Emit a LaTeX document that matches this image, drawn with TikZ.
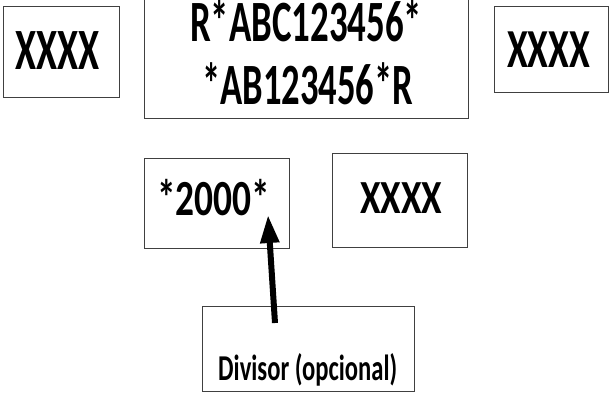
\documentclass[tikz,border=0pt]{standalone}
\usepackage{fontspec}
\usepackage{graphicx}
\setmainfont{Carlito}
\usetikzlibrary{arrows.meta}
\newcommand\sqz[3]{\setbox0\hbox{\fontsize{#2}{#2}\selectfont\bfseries #3}\pgfmathsetmacro\sqr{#1/\the\wd0}\scalebox{\sqr}[1]{\box0}}
\tikzset{
  boxx/.style={draw=black!75, line width=1.1pt, inner sep=0pt, anchor=north west},
  lbl/.style={inner sep=0pt, anchor=base west},
}
\begin{document}
\begin{tikzpicture}[x=1pt,y=-1pt]
\useasboundingbox (0,0) rectangle (611,392);
\clip (0,0) rectangle (611,392);
% boxes
\node[boxx, minimum width=116pt, minimum height=91pt] (lbox) at (3,6) {};
\node[boxx, minimum width=324pt, minimum height=128pt] (cbox) at (144,-10) {};
\node[boxx, minimum width=114pt, minimum height=86pt] (rbox) at (494,6) {};
\node[boxx, minimum width=145pt, minimum height=90pt] (nbox) at (144,158) {};
\node[boxx, minimum width=135pt, minimum height=94pt] (xbox) at (332,153) {};
\node[boxx, minimum width=212pt, minimum height=85pt] (dbox) at (202,306) {};
% texts
\node[lbl] (ltxt) at (15,69) {\sqz{84}{58.5}{XXXX}};
\node[lbl] (c1) at (190,41) {\sqz{232}{58.5}{R*ABC123456*}};
\node[lbl] (c2) at (202,104) {\sqz{211}{58.5}{*AB123456*R}};
\node[lbl] (rtxt) at (507,67) {\sqz{83}{55}{XXXX}};
\node[lbl] (ntxt) at (157,215) {\sqz{113}{50.6}{*2000*}};
\node[lbl] (xtxt) at (360,213) {\sqz{82}{47.5}{XXXX}};
\node[lbl] (dtxt) at (218,380) {\sqz{179}{36.4}{Divisor (opcional)}};
% arrow
\coordinate (tail) at (275,323);
\coordinate (tip) at (268,215);
\draw[line width=6pt, -{Triangle[length=28pt,width=18pt]}] (tail) -- (tip);
\end{tikzpicture}
\end{document}
